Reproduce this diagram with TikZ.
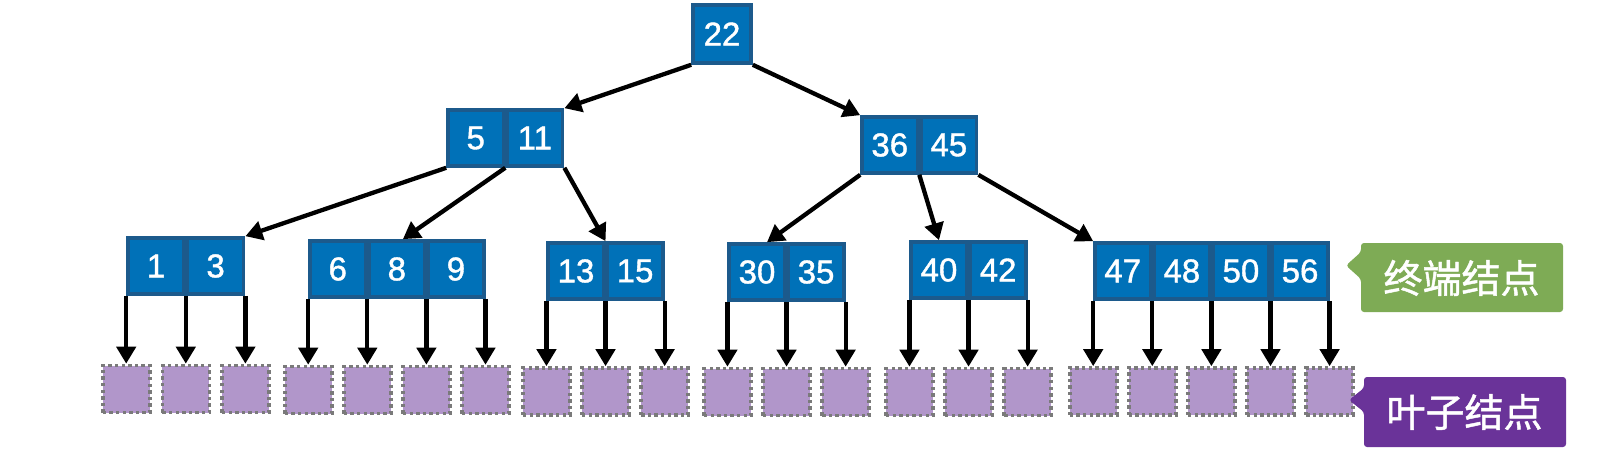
\documentclass[tikz,border=0pt]{standalone}
\usepackage{fontspec}
\usetikzlibrary{arrows.meta,calc}
\newfontfamily\helv[FakeBold=1.2]{Liberation Sans}
\newfontfamily\cjk[FakeBold=1.2]{Noto Sans CJK SC}
\definecolor{bfill}{HTML}{0071B8}
\definecolor{bdr}{HTML}{1C5A8C}
\definecolor{lfill}{HTML}{B196CA}
\definecolor{lbdr}{HTML}{7A7A7A}
\definecolor{tgreen}{HTML}{7EAB55}
\definecolor{tpurple}{HTML}{6A3399}
\tikzset{
  cell/.style={draw=bdr, fill=bfill, line width=3.6pt, minimum width=55.5pt, minimum height=56pt,
    inner sep=0pt, text=white, font=\helv\fontsize{33}{33}\selectfont},
  leaf/.style={draw=lbdr, fill=lfill, line width=3.6pt, dash pattern=on 3.4pt off 3.2pt,
    minimum width=47pt, minimum height=47pt, inner sep=0pt},
  link/.style={line width=4.3pt, -{Triangle[length=17pt,width=19pt]}},
  calltext/.style={text=white, font=\cjk\fontsize{39}{39}\selectfont, inner sep=0pt}
}
\begin{document}
\begin{tikzpicture}[x=1pt,y=-1pt]
\useasboundingbox (0,0) rectangle (1618,459);
% root
\node[cell, minimum width=58pt, minimum height=58pt] (c22) at (722,34) {22};
% level 2
\node[cell] (c5) at (475.75,138) {5};
\node[cell, anchor=west] (c11) at (c5.east) {11};
\node[cell] (c36) at (889.75,145) {36};
\node[cell, anchor=west] (c45) at (c36.east) {45};
% level 3
\node[cell, minimum width=56pt] (c1) at (156,266) {1};
\node[cell, minimum width=56pt, anchor=west] (c3) at (c1.east) {3};
\node[cell] (c6) at (337.75,269) {6};
\node[cell, anchor=west] (c8) at (c6.east) {8};
\node[cell, anchor=west] (c9) at (c8.east) {9};
\node[cell] (c13) at (576,271) {13};
\node[cell, anchor=west] (c15) at (c13.east) {15};
\node[cell] (c30) at (757,272) {30};
\node[cell, anchor=west] (c35) at (c30.east) {35};
\node[cell] (c40) at (939,270) {40};
\node[cell, anchor=west] (c42) at (c40.east) {42};
\node[cell] (c47) at (1122.75,271) {47};
\node[cell, anchor=west] (c48) at (c47.east) {48};
\node[cell, anchor=west] (c50) at (c48.east) {50};
\node[cell, anchor=west] (c56) at (c50.east) {56};
% tree links
\draw[link] (c22.south west) -- (c11.north east);
\draw[link] (c22.south east) -- (c36.north west);
\draw[link] (c5.south west) -- (c3.north east);
\draw[link] (c11.south west) -- ($(c8.north)+(6,0)$);
\draw[link] (c11.south east) -- (c15.north west);
\draw[link] (c36.south west) -- ($(c30.north)+(10,0)$);
\draw[link] (c45.south west) -- (c40.north);
\draw[link] (c45.south east) -- (c47.north west);
% leaves
\foreach \n/\a/\y in {1a/c1.south west/389, 1b/c1.south east/389, 1c/c3.south east/389,
  6a/c6.south west/390, 6b/c6.south east/390, 6c/c8.south east/390, 6d/c9.south east/390,
  13a/c13.south west/391.5, 13b/c13.south east/391.5, 13c/c15.south east/391.5,
  30a/c30.south west/392, 30b/c30.south east/392, 30c/c35.south east/392,
  40a/c40.south west/392, 40b/c40.south east/392, 40c/c42.south east/392,
  47a/c47.south west/391.5, 47b/c47.south east/391.5, 47c/c48.south east/391.5,
  47d/c50.south east/391.5, 47e/c56.south east/391.5}{
  \node[leaf] (L\n) at (\a |- 0,\y) {};
  \draw[link] (\a) -- (L\n.north);
}
% callouts
\coordinate (t1) at (1461.5,278);
\fill[tgreen, rounded corners=3pt] (1346,265.5) -- (1361,252) -- (1361,243) -- (1563,243) -- (1563,312) -- (1361,312) -- (1361,279) -- cycle;
\node[calltext] (lab1) at (t1) {终端结点};
\coordinate (t2) at (1464.5,412);
\fill[tpurple, rounded corners=3pt] (1349,400) -- (1364,388) -- (1364,377) -- (1566,377) -- (1566,447) -- (1364,447) -- (1364,412) -- cycle;
\node[calltext] (lab2) at (t2) {叶子结点};
\end{tikzpicture}
\end{document}
